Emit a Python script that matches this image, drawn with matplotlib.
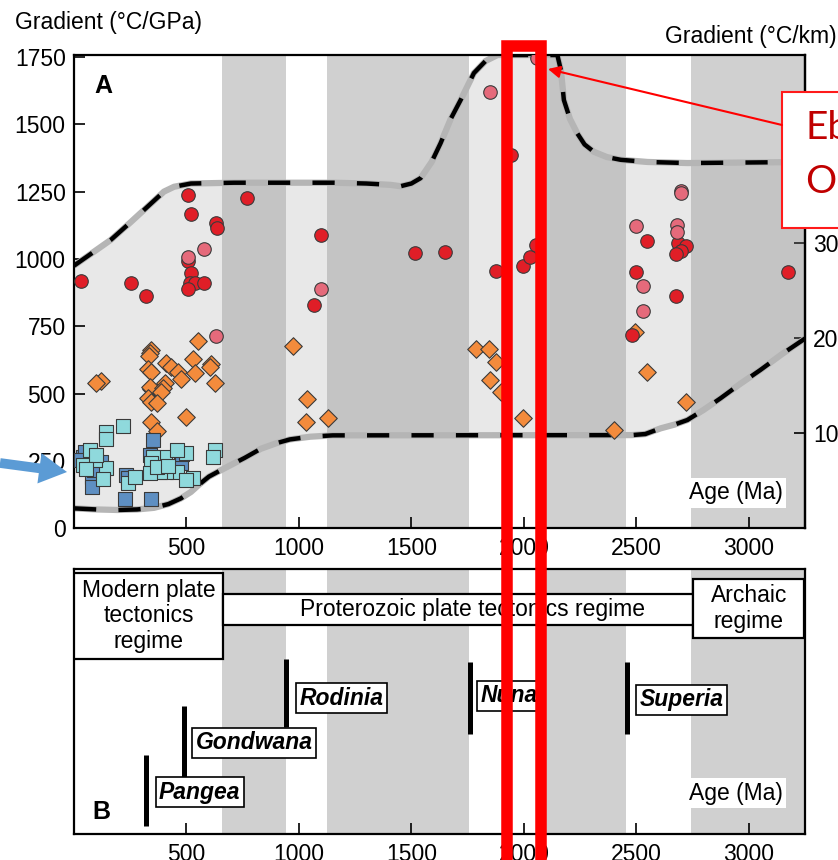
import matplotlib
matplotlib.use("Agg")
import matplotlib.pyplot as plt
from matplotlib.patches import Rectangle, FancyArrowPatch

plt.rcParams['font.family'] = ['Liberation Sans', 'DejaVu Sans']
plt.rcParams['font.size'] = 16.5

# supercontinent / grey time bands (Ma)
bands = [(660, 941), (1124, 1755), (2080, 2455), (2745, 3300)]

# envelope around the data
upper_age = [0, 60, 164, 250, 327, 400, 445, 520, 711, 1156, 1300, 1408, 1452, 1500, 1541, 1590,
             1630, 1675, 1719, 1778, 1830, 1883, 2149, 2165, 2178, 2205, 2237, 2270, 2311, 2370,
             2431, 2550, 2727, 3260]
upper_val = [975, 1010, 1071, 1135, 1194, 1250, 1268, 1280, 1283, 1283, 1280, 1275, 1270, 1280, 1300, 1360,
             1430, 1520, 1590, 1690, 1735, 1757, 1757, 1700, 1590, 1520, 1467, 1425, 1398, 1378,
             1368, 1360, 1356, 1360]
lower_age = [0, 100, 193, 280, 356, 420, 475, 520, 560, 600, 640, 700, 760, 830, 900, 960, 1050,
             1150, 2480, 2540, 2608, 2670, 2727, 2800, 2875, 2960, 3052, 3150, 3260]
lower_val = [74, 70, 68, 70, 76, 90, 111, 135, 165, 192, 210, 236, 262, 295, 316, 330, 340,
             345, 346, 350, 371, 385, 402, 440, 483, 535, 588, 648, 710]

red_age = [30, 253, 319, 507, 522, 633, 638, 507, 522, 515, 537, 578, 507, 768, 1100, 1067, 1515, 1648,
           1941, 1878, 1998, 2027, 2052, 2546, 2685, 2719, 2700, 2678, 2497, 2675, 2479, 3176]
red_val = [918, 910, 864, 1238, 1166, 1132, 1116, 993, 947, 912, 910, 910, 889, 1225, 1089, 830, 1021, 1026,
           1386, 954, 974, 1009, 1052, 1067, 1061, 1049, 1030, 1019, 953, 864, 718, 953]
pink_age = [578, 507, 633, 1097, 1848, 2060, 2700, 2700, 2497, 2679, 2679, 2530, 2530]
pink_val = [1037, 1009, 714, 890, 1621, 1745, 1254, 1244, 1124, 1126, 1101, 901, 807]
orange_age = [552, 341, 337, 332, 529, 608, 604, 407, 433, 463, 475, 540, 629, 122, 100, 329, 341, 344,
              337, 404, 396, 389, 329, 344, 367, 500, 341, 367, 974, 1038, 1030, 1131, 1789, 1845, 1878,
              1848, 1897, 1998, 2494, 2549, 2719, 2400]
orange_val = [697, 662, 650, 640, 627, 609, 600, 613, 598, 582, 553, 578, 541, 548, 541, 590, 582, 516,
              524, 538, 520, 507, 483, 470, 466, 412, 396, 362, 678, 480, 396, 411, 666, 666, 616,
              551, 505, 411, 728, 579, 468, 365]
blue_age = [352, 40, 48, 122, 70, 78, 78, 233, 238, 226, 341, 374, 475, 478, 337, 88, 30]
blue_val = [328, 266, 284, 247, 226, 192, 155, 198, 186, 108, 108, 235, 244, 276, 272, 217, 254]
cyan_age = [218, 144, 144, 629, 618, 500, 456, 529, 500, 411, 404, 352, 344, 381, 144, 129, 92, 40,
            240, 70, 337, 371, 100, 460, 420, 270, 55]
cyan_val = [380, 356, 331, 291, 266, 281, 210, 186, 179, 210, 266, 266, 241, 210, 223, 182, 254, 235,
            167, 291, 204, 229, 272, 290, 230, 190, 222]

# supercontinents: name, age of bar, bar bottom/top, label centre (age, y)
supers = [("Pangea", 319, 0.03, 0.30, 559, 0.158),
          ("Gondwana", 488, 0.217, 0.484, 801, 0.346),
          ("Rodinia", 944, 0.405, 0.662, 1188, 0.514),
          ("Nuna", 1759, 0.378, 0.651, 1933, 0.522),
          ("Superia", 2460, 0.378, 0.651, 2702, 0.507)]

fig = plt.figure(figsize=(8.38, 8.6), dpi=100)
axA = fig.add_axes([0.0883, 0.3857, 0.8723, 0.5503])
axB = fig.add_axes([0.0883, 0.0299, 0.8723, 0.3081])

for ax in (axA, axB):
    for b0, b1 in bands:
        ax.axvspan(b0, b1, color='#d0d0d0', lw=0, zorder=0)
    ax.set_xlim(0, 3250)
    ax.set_xticks([500, 1000, 1500, 2000, 2500, 3000])
    ax.tick_params(direction='in', length=8, width=1.2, pad=6)
    for s in ax.spines.values():
        s.set_linewidth(1.6)

# panel A
axA.set_ylim(0, 1757)
axA.set_yticks(range(0, 1751, 250))
poly_x = upper_age + lower_age[::-1]
poly_y = upper_val + lower_val[::-1]
axA.fill(poly_x, poly_y, color='#a1a1a1', alpha=0.234, lw=0, zorder=1)
for xs, ys in ((upper_age, upper_val), (lower_age, lower_val)):
    axA.plot(xs, ys, color='#b5b5b5', lw=4.5, zorder=2, solid_capstyle='butt')
    axA.plot(xs, ys, color='black', lw=3.2, dashes=(5, 5), zorder=3)

mk = dict(edgecolors='#3a3a3a', linewidths=0.8, zorder=4)
axA.scatter(orange_age, orange_val, marker='D', s=80, c='#f38b3c', **mk)
axA.scatter(blue_age, blue_val, marker='s', s=95, c='#5e8fc2', **mk)
axA.scatter(cyan_age, cyan_val, marker='s', s=95, c='#8fd9dc', **mk)
axA.scatter(red_age, red_val, marker='o', s=95, c='#e01e27', **mk)
axA.scatter(pink_age, pink_val, marker='o', s=95, c='#e56a7b', **mk)

axA.text(0.028, 0.935, "A", transform=axA.transAxes, fontsize=18, fontweight='bold', va='center')
axA.text(0.97, 0.075, "Age (Ma)", transform=axA.transAxes, ha='right', va='center',
         bbox=dict(boxstyle='square,pad=0.15', fc='white', ec='none'), zorder=6)

sec = axA.secondary_yaxis('right', functions=(lambda v: v / 35.3, lambda v: v * 35.3))
sec.set_yticks([10, 20, 30])
sec.tick_params(direction='in', length=8, width=1.2, pad=6)
sec.spines['right'].set_linewidth(1.6)

fig.text(15 / 838, 1 - 22 / 860, "Gradient (°C/GPa)", va='center', ha='left')
fig.text(665 / 838, 1 - 37 / 860, "Gradient (°C/km)", va='center', ha='left')

# panel B
axB.set_ylim(0, 1)
axB.set_yticks([])
regimes = [("Modern plate\ntectonics\nregime", 0, 663, 0.662, 0.987, 331),
           ("Proterozoic plate tectonics regime", 663, 2753, 0.789, 0.906, 1770),
           ("Archaic\nregime", 2753, 3244, 0.742, 0.962, 3000)]
for txt, x0, x1, y0, y1, xc in regimes:
    axB.add_patch(Rectangle((x0, y0), x1 - x0, y1 - y0, fc='white', ec='black', lw=1.6, zorder=3))
    axB.text(xc, (y0 + y1) / 2, txt, ha='center', va='center', linespacing=1.15, zorder=4)
for name, xa, yb, yt, xl, yl in supers:
    axB.plot([xa, xa], [yb, yt], color='black', lw=3.6, solid_capstyle='butt', zorder=3)
    axB.text(xl, yl, name, ha='center', va='center', fontweight='bold', fontstyle='italic',
             bbox=dict(boxstyle='square,pad=0.15', fc='white', ec='black', lw=1.2), zorder=4)
axB.text(0.025, 0.085, "B", transform=axB.transAxes, fontsize=18, fontweight='bold', va='center')
axB.text(0.97, 0.155, "Age (Ma)", transform=axB.transAxes, ha='right', va='center',
         bbox=dict(boxstyle='square,pad=0.15', fc='white', ec='none'), zorder=6)

# overlaid annotations
fig.add_artist(Rectangle((506.7 / 838, -0.05), (541 - 506.7) / 838, 1 - 45.5 / 860 + 0.05,
                         transform=fig.transFigure, fill=False, ec='#ff0000', lw=8.3, zorder=20))
fig.add_artist(Rectangle((782 / 838, 1 - 228 / 860), 0.1, (228 - 92) / 860,
                         transform=fig.transFigure, fc='white', ec='#ff1a1a', lw=1.5, zorder=20))
fig.text(805 / 838, 1 - 128 / 860, "Eb", color='#c00000', fontsize=28, family='Lato', va='center', zorder=21)
fig.text(805 / 838, 1 - 182 / 860, "Or", color='#c00000', fontsize=28, family='Lato', va='center', zorder=21)
fig.add_artist(FancyArrowPatch((782 / 838, 1 - 125 / 860), (548 / 838, 1 - 69 / 860),
                               transform=fig.transFigure, arrowstyle='-|>', mutation_scale=18,
                               color='#ff0000', lw=1.5, shrinkA=0, shrinkB=0, zorder=21))
fig.add_artist(FancyArrowPatch((0, 1 - 463 / 860), (67 / 838, 1 - 472 / 860),
                               transform=fig.transFigure,
                               arrowstyle='simple,head_length=2.0,head_width=2.2,tail_width=0.7',
                               mutation_scale=10, color='#5b9bd5', lw=0, shrinkA=0, shrinkB=0, zorder=21))

fig.savefig("out.png", dpi=100)
